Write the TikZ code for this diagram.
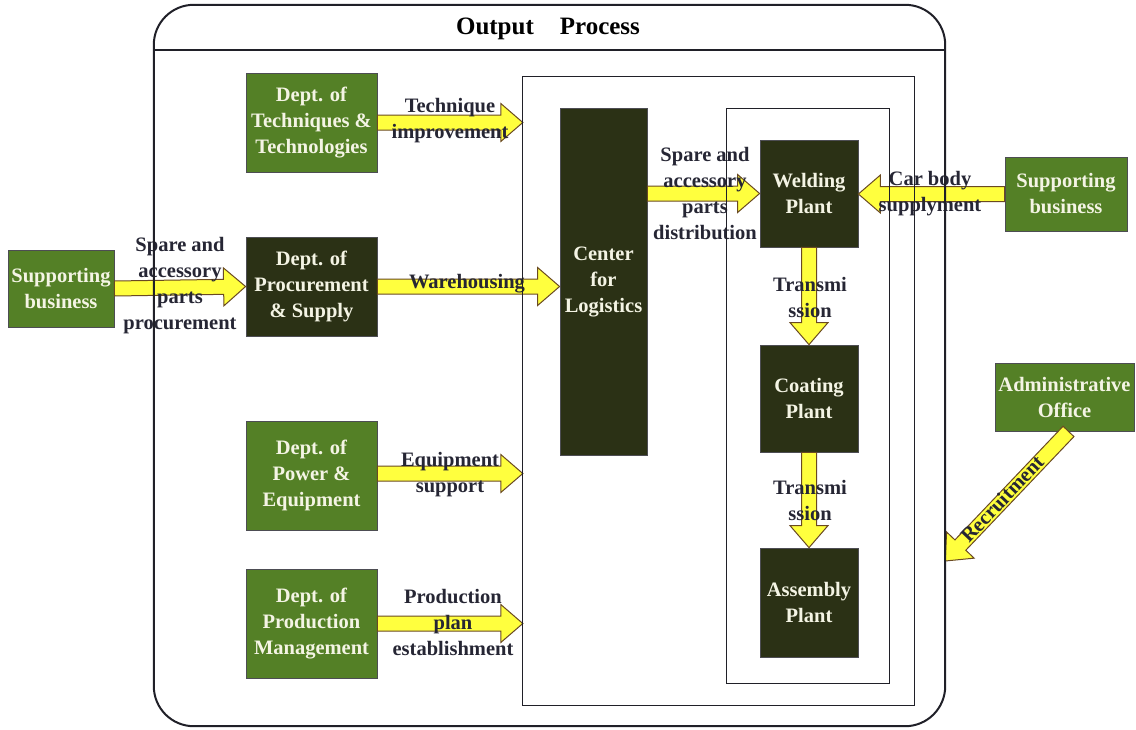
\documentclass[tikz,border=0pt]{standalone}
\usepackage{fontspec}
\setmainfont{Liberation Serif}
\usetikzlibrary{calc}

\definecolor{deptgreen}{HTML}{548026}
\definecolor{deptdark}{HTML}{2B3115}
\definecolor{boxtext}{HTML}{F4F4E4}
\definecolor{labeltext}{HTML}{262634}
\definecolor{arrowfill}{HTML}{FFFF3E}
\definecolor{arrowedge}{HTML}{6A4A22}
\definecolor{frameline}{HTML}{202028}

\tikzset{
  unitbox/.style={draw=frameline!80, line width=0.8pt, text=boxtext, align=center,
    font=\fontsize{20.5}{26}\selectfont\bfseries, inner sep=0pt},
  greenbox/.style={unitbox, fill=deptgreen},
  darkbox/.style={unitbox, fill=deptdark},
  flowlabel/.style={text=labeltext, align=center, inner sep=0pt,
    font=\fontsize{20.5}{26}\selectfont\bfseries},
  holder/.style={draw=none, inner sep=0pt},
  flowstyle/.style={fill=arrowfill, draw=arrowedge, line width=1pt, line join=miter},
  frame/.style={draw=frameline, line width=1.6pt},
}

% block arrow from #1 to #2 (tip at #2)
\newcommand\flowarrow[2]{%
  \coordinate (fa) at (#1);
  \coordinate (fb) at (#2);
  \coordinate (fm) at ($(fb)!22pt!(fa)$);
  \filldraw[flowstyle] ($(fa)!7.5pt!90:(fb)$) -- ($(fm)!7.5pt!-90:(fa)$)
    -- ($(fm)!19pt!-90:(fa)$) -- (fb) -- ($(fm)!19pt!90:(fa)$)
    -- ($(fm)!7.5pt!90:(fa)$) -- ($(fa)!7.5pt!-90:(fb)$) -- cycle;}

\begin{document}
\begin{tikzpicture}[x=1pt, y=-1pt]
\useasboundingbox (0,0) rectangle (1136,729);

% frames (placeholders; outlines drawn on top at the end)
\node[holder, minimum width=791pt, minimum height=721pt] (outer) at (549.5,365.5) {};
\node[holder, minimum width=391pt, minimum height=628pt] (mid) at (718.5,391) {};
\node[holder, minimum width=162pt, minimum height=574pt] (inner) at (808,396) {};

% departments
\node[greenbox, minimum width=131pt, minimum height=99pt] (tech) at (311.5,122.5)
  {Dept. of\\Techniques \&\\Technologies};
\node[darkbox, minimum width=131pt, minimum height=99pt] (proc) at (311.5,286.5)
  {Dept. of\\Procurement\\\& Supply};
\node[greenbox, minimum width=131pt, minimum height=109pt] (power) at (311.5,475.5)
  {Dept. of\\Power \&\\Equipment};
\node[greenbox, minimum width=131pt, minimum height=109pt] (prodm) at (311.5,623.5)
  {Dept. of\\Production\\Management};

% external units
\node[greenbox, minimum width=106pt, minimum height=77pt] (supL) at (61,288.5)
  {Supporting\\business};
\node[greenbox, minimum width=122pt, minimum height=74pt] (supR) at (1066,194)
  {Supporting\\business};
\node[greenbox, minimum width=139pt, minimum height=68pt] (admin) at (1064.5,397)
  {Administrative\\Office};

% logistics and plants
\node[darkbox, minimum width=87pt, minimum height=347pt] (center) at (603.5,282)
  {Center\\for\\Logistics};
\node[darkbox, minimum width=98pt, minimum height=107pt] (weld) at (809,193.5)
  {Welding\\Plant};
\node[darkbox, minimum width=98pt, minimum height=107pt] (coat) at (809,398.5)
  {Coating\\Plant};
\node[darkbox, minimum width=98pt, minimum height=109pt] (asm) at (809,602.5)
  {Assembly\\Plant};

% flows
\flowarrow{supL.east}{proc.west}
\flowarrow{tech.east}{tech.east -| mid.west}
\flowarrow{proc.east}{proc.east -| center.west}
\flowarrow{$(power.east)+(0,-2)$}{$(power.east -| mid.west)+(0,-2)$}
\flowarrow{prodm.east}{prodm.east -| mid.west}
\flowarrow{center.east |- weld.west}{weld.west}
\flowarrow{supR.west}{supR.west -| weld.east}
\flowarrow{weld.south}{coat.north}
\flowarrow{coat.south}{asm.north}
\flowarrow{$(admin.south)+(4,0)$}{outer.east |- 0,561}

% flow labels
\node[flowlabel] (lproc) at (180,286) {Spare and\\accessory\\parts\\procurement};
\node[flowlabel] (ltech) at (450,121) {Technique\\improvement};
\node[flowlabel] (lware) at (467,284) {Warehousing};
\node[flowlabel] (lequip) at (450,475) {Equipment\\support};
\node[flowlabel] (lplan) at (453,622) {Production\\plan\\establishment};
\node[flowlabel] (ldist) at (705,194) {Spare and\\accessory\\parts\\distribution};
\node[flowlabel] (lcar) at (930,194) {Car body\\supplyment};
\node[flowlabel] (ltr1) at (810,297) {Transmi\\ssion};
\node[flowlabel] (ltr2) at (810,500) {Transmi\\ssion};
\node[flowlabel, rotate=46.5] (lrec) at (1002,499) {Recruitment};

% frame outlines
\draw[frame, line width=2pt, rounded corners=40pt] (outer.south west) rectangle (outer.north east);
\draw[frame, line width=2pt] (outer.west |- 0,50) -- (outer.east |- 0,50);
\node[flowlabel, text=black, font=\fontsize{25}{30}\selectfont\bfseries] (title) at (548,29)
  {Output\hspace{26pt}Process};
\draw[frame, line width=1.3pt] (mid.south west) rectangle (mid.north east);
\draw[frame, line width=1.2pt] (inner.south west) rectangle (inner.north east);
\end{tikzpicture}
\end{document}
